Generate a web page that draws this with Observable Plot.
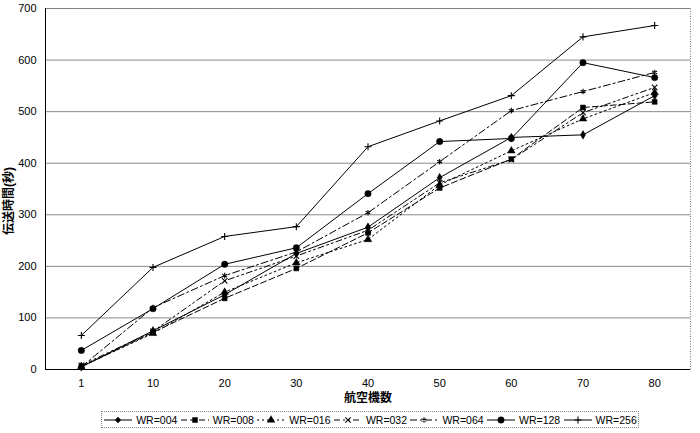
<!DOCTYPE html>
<html><head><meta charset="utf-8">
<script src="https://cdn.jsdelivr.net/npm/d3@7"></script>
<script src="https://cdn.jsdelivr.net/npm/@observablehq/plot@0.6"></script>
<style>
body{margin:0;background:#fff;font-family:"Liberation Sans","Noto Sans CJK JP",sans-serif;}
#chart svg{display:block;}
#legend{position:absolute;left:101px;top:411px;width:538px;height:17px;border:1px dotted #888;box-sizing:border-box;display:flex;align-items:center;justify-content:space-around;font-size:10.5px;color:#000;}
#legend .it{display:flex;align-items:center;gap:3px;}
</style></head>
<body>
<div id="chart"></div>
<div id="legend"></div>
<script>
const categories = ["1","10","20","30","40","50","60","70","80"];
const yTicks = [0,100,200,300,400,500,600,700];
const seriesNames = ["WR=004","WR=008","WR=016","WR=032","WR=064","WR=128","WR=256"];
const wr004 = [5, 75, 145, 225, 276, 372, 450, 455, 531];
const wr008 = [5, 72, 138, 196, 265, 352, 408, 508, 519];
const wr016 = [6, 70, 150, 207, 252, 358, 424, 486, 537];
const wr032 = [8, 74, 172, 220, 270, 362, 407, 498, 547];
const wr064 = [5, 120, 182, 228, 304, 403, 502, 539, 576];
const wr128 = [37, 118, 204, 236, 341, 442, 448, 595, 566];
const wr256 = [66, 198, 258, 277, 432, 482, 531, 645, 667];
const yLabel = "伝送時間(秒)";
const xLabel = "航空機数";

const values = [wr004, wr008, wr016, wr032, wr064, wr128, wr256];
const styles = [
  {symbol:"diamond", dash:null, filled:true, r:2.6},
  {symbol:"square", dash:"6,3", filled:true, r:2.8},
  {symbol:"triangle", dash:"2,3", filled:true, r:2.8},
  {symbol:"times", dash:"6,3,2,3,2,3", filled:false, r:2.6},
  {symbol:"asterisk", dash:"7,3,2,3", filled:false, r:2.6},
  {symbol:"circle", dash:null, filled:true, r:3.2},
  {symbol:"plus", dash:null, filled:false, r:2.4}
];
const rows = [];
seriesNames.forEach((s, k) => values[k].forEach((v, i) => rows.push({series: s, i, cat: categories[i], v})));

const marks = [
  Plot.gridY(yTicks, {stroke:"#8a8a8a", strokeOpacity:1, strokeWidth:1}),
  Plot.frame({stroke:"#777", strokeDasharray:"1,1.5"}),
  Plot.ruleY([0], {stroke:"#000"}),
  Plot.ruleX([-0.5], {stroke:"#000"}),
  Plot.axisY(yTicks, {tickSize:0, tickPadding:9, label:null, fontSize:11}),
  Plot.axisX(d3.range(categories.length), {tickSize:0, tickPadding:10, tickFormat: i => categories[i], label:null, fontSize:11}),
  Plot.text([yLabel], {frameAnchor:"left", textAnchor:"middle", lineAnchor:"middle", dx:-36, dy:12, rotate:-90, fontSize:12, fontWeight:"bold"}),
  Plot.text([xLabel], {frameAnchor:"bottom", lineAnchor:"middle", dy:29, fontSize:12, fontWeight:"bold"})
];
seriesNames.forEach((s, k) => {
  const st = styles[k];
  const d = rows.filter(r => r.series === s);
  marks.push(Plot.line(d, {x:"i", y:"v", stroke:"#000", strokeWidth:1, strokeDasharray: st.dash || undefined}));
  marks.push(Plot.dot(d, {x:"i", y:"v", symbol: st.symbol, r: st.r,
    fill: st.filled ? "#000" : "none", stroke:"#000", strokeWidth: st.filled ? 0.5 : 1.1}));
});

const chart = Plot.plot({
  width:700, height:405,
  marginLeft:45, marginRight:10, marginTop:8, marginBottom:36,
  style:{fontFamily:'"Liberation Sans","Noto Sans CJK JP",sans-serif', fontSize:"11px", color:"#000"},
  x:{type:"linear", domain:[-0.5, categories.length - 0.5], axis:null},
  y:{domain:[0,700], axis:null},
  marks
});
document.getElementById("chart").appendChild(chart);

const legend = document.getElementById("legend");
const symbolFns = {diamond:d3.symbolDiamond2||d3.symbolDiamond, square:d3.symbolSquare, triangle:d3.symbolTriangle, times:d3.symbolTimes||d3.symbolX, asterisk:d3.symbolAsterisk, circle:d3.symbolCircle, plus:d3.symbolPlus};
seriesNames.forEach((s, k) => {
  const st = styles[k];
  const it = document.createElement("div");
  it.className = "it";
  const svg = d3.create("svg").attr("width", 30).attr("height", 10);
  svg.append("line").attr("x1",1).attr("x2",29).attr("y1",5).attr("y2",5)
    .attr("stroke","#000").attr("stroke-width",1).attr("stroke-dasharray", st.dash);
  const area = Math.PI * st.r * st.r;
  svg.append("path").attr("transform","translate(15,5)")
    .attr("d", d3.symbol(symbolFns[st.symbol], area)())
    .attr("fill", st.filled ? "#000" : "none").attr("stroke","#000").attr("stroke-width", st.filled ? 0.5 : 1.1);
  it.appendChild(svg.node());
  const t = document.createElement("span");
  t.textContent = s;
  it.appendChild(t);
  legend.appendChild(it);
});
</script>
</body></html>
